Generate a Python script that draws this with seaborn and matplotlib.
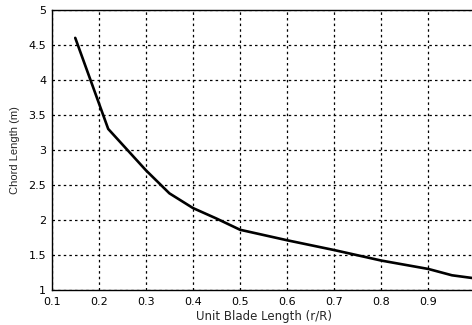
import matplotlib
matplotlib.use("Agg")
import matplotlib.pyplot as plt
import numpy as np
import pandas as pd
import seaborn as sns

# values
unit_length = [0.15, 0.22, 0.30, 0.35, 0.40, 0.45, 0.50, 0.60, 0.70, 0.80, 0.90, 0.95, 1.00]
chord_length = [4.60, 3.30, 2.71, 2.38, 2.17, 2.02, 1.86, 1.71, 1.57, 1.42, 1.30, 1.21, 1.165]
x_ticks = [0.1, 0.2, 0.3, 0.4, 0.5, 0.6, 0.7, 0.8, 0.9]
x_tick_labels = ["0.1", "0.2", "0.3", "0.4", "0.5", "0.6", "0.7", "0.8", "0.9"]
y_ticks = [1, 1.5, 2, 2.5, 3, 3.5, 4, 4.5, 5]
y_tick_labels = ["1", "1.5", "2", "2.5", "3", "3.5", "4", "4.5", "5"]

sns.set_style("white")
plt.rcParams["font.family"] = ["DejaVu Sans"]

df = pd.DataFrame({"r": unit_length, "c": chord_length})

fig = plt.figure(figsize=(4.72, 3.25), dpi=100)
ax = fig.add_axes([0.1095, 0.1077, 0.898, 0.862])

sns.lineplot(data=df, x="r", y="c", color="black", linewidth=1.9, ax=ax)

ax.set_xlim(0.1, 1.0)
ax.set_ylim(1, 5)
ax.set_xticks(x_ticks)
ax.set_xticklabels(x_tick_labels)
ax.set_yticks(y_ticks)
ax.set_yticklabels(y_tick_labels)
ax.grid(True, color="black", linestyle=(0, (2, 2.5)), linewidth=0.9)
ax.tick_params(direction="in", length=3, width=0.8, labelsize=8, pad=4, colors="black")
ax.tick_params(axis="x", pad=5)
for side in ["left", "bottom", "top", "right"]:
    ax.spines[side].set_color("black")
    ax.spines[side].set_linewidth(1.0)

ax.set_xlabel("Unit Blade Length (r/R)", fontsize=8.5, labelpad=2)
ax.set_ylabel("Chord Length (m)", fontsize=8, labelpad=6, family="Liberation Sans")

fig.savefig("out.png", dpi=100)
